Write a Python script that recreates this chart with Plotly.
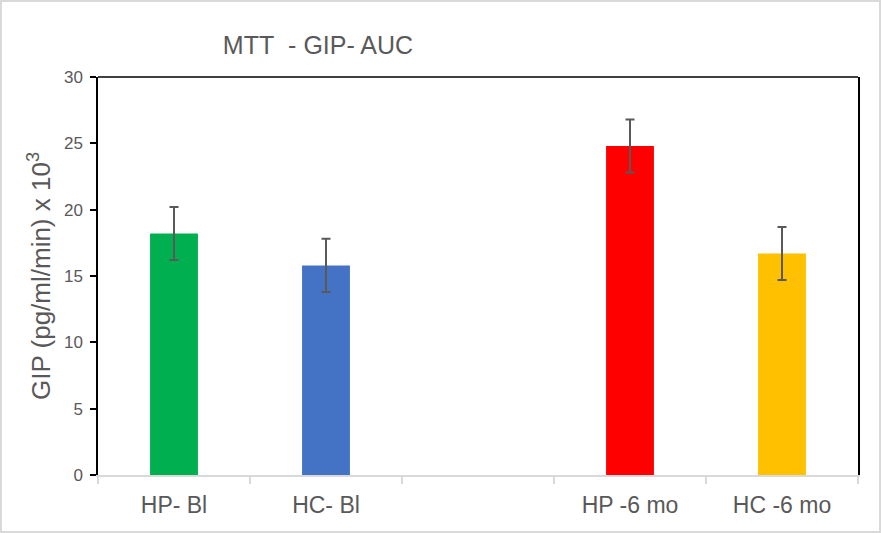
import plotly.graph_objects as go

# данные
groups = ["HP- Bl", "HC- Bl", " ", "HP -6 mo", "HC -6 mo"]
auc_values = [18.2, 15.8, None, 24.8, 16.7]
auc_errors = [2.0, 2.0, None, 2.0, 2.0]
bar_colors = ["#00B050", "#4472C4", "#FFFFFF", "#FF0000", "#FFC000"]
y_ticks = [0, 5, 10, 15, 20, 25, 30]

GRAY = "#595959"
FONT = "Liberation Sans, Arial, sans-serif"

fig = go.Figure()

fig.add_trace(go.Bar(
    x=groups,
    y=auc_values,
    width=0.315,
    marker=dict(color=bar_colors, line=dict(width=0)),
    error_y=dict(type="data", array=auc_errors, visible=True,
                 color=GRAY, thickness=2, width=4.5),
    showlegend=False,
    hoverinfo="x+y"))

fig.update_layout(
    width=881, height=533,
    margin=dict(l=98, r=23, t=77, b=58),
    paper_bgcolor="white",
    plot_bgcolor="white",
    font=dict(family=FONT, color=GRAY),
    title=dict(text="MTT\u00a0\u00a0- GIP- AUC", x=318 / 881, xanchor="center",
               y=1 - 45 / 533, yanchor="middle",
               font=dict(size=25, color=GRAY, family=FONT)),
    xaxis=dict(
        type="category",
        categoryorder="array", categoryarray=groups,
        showgrid=False, zeroline=False,
        showline=True, linecolor="#D9D9D9", linewidth=1.5,
        ticks="outside", tickson="boundaries", ticklen=7,
        tickcolor="#D9D9D9", tickwidth=1.5,
        tickfont=dict(size=23, color=GRAY),
        ticklabelstandoff=9),
    yaxis=dict(
        range=[0, 30], tickvals=y_ticks,
        showgrid=False, zeroline=False,
        showline=True, linecolor="black", linewidth=1.5, mirror=True,
        ticks="outside", ticklen=6, tickcolor="black", tickwidth=1.5,
        tickfont=dict(size=17, color=GRAY),
        ticklabelstandoff=4,
        title=dict(text="GIP (pg/ml/min) x 10<sup>3</sup>",
                   font=dict(size=26, color=GRAY), standoff=6)),
    shapes=[
        # верхняя рамка области графика
        dict(type="line", xref="paper", yref="paper", x0=0, x1=1, y0=1, y1=1,
             line=dict(color="black", width=1.5)),
        # внешняя рамка всей диаграммы
        dict(type="rect", xref="paper", yref="paper",
             x0=(1 - 98) / 760, x1=(880 - 98) / 760,
             y0=(475 - 532) / 398, y1=(475 - 1) / 398,
             line=dict(color="#D9D9D9", width=2)),
    ],
)

# убираем отступ body, чтобы график начинался с (0, 0)
fig.write_html("out.html",
               config={"displayModeBar": False},
               post_script="document.body.style.margin='0';")
